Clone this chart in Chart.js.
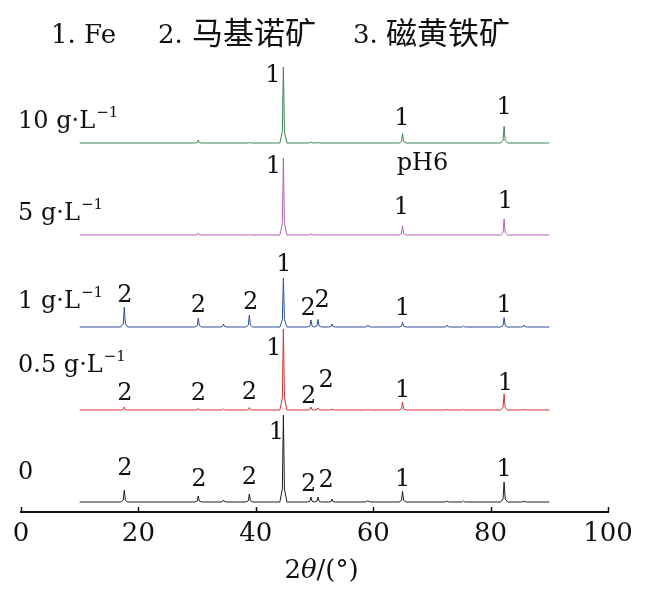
<!DOCTYPE html>
<html>
<head>
<meta charset="utf-8">
<script src="https://cdn.jsdelivr.net/npm/chart.js@4"></script>
<style>
  html, body { margin: 0; padding: 0; background: #fff; }
  #wrap { width: 645px; height: 601px; position: relative; }
</style>
</head>
<body>
<div id="wrap"><canvas id="xrd"></canvas></div>
<script>
// peak positions (2θ, degrees)
const peakPos = [17.6, 30.2, 34.5, 38.9, 44.7, 49.4, 50.6, 53.0, 59.1, 65.0, 72.6, 75.4, 82.3, 85.7];

// peak heights above baseline for each sample (a.u.)
const hBlank = [12, 6, 2, 8, 87, 5, 5, 3, 1.5, 10.7, 1, 1, 20, 1];
const hHalf  = [3, 1.5, 1, 2.5, 81, 3, 2, 1, 0.5, 8, 0.5, 0.5, 16, 0.5];
const hOne   = [20, 9, 3, 12, 49, 7, 7.5, 3, 2, 5, 2, 1, 9.3, 2];
const hFive  = [0, 2, 0, 0.5, 77, 1, 0.5, 0, 0, 9.3, 0, 0, 16, 0];
const hTen   = [0, 3, 0, 0.5, 76, 1, 0.5, 0, 0, 9.3, 0, 0, 16.7, 0];

// vertical offsets of the stacked patterns
const offsets = [10, 102, 185, 277, 369];
const sampleNames = ["0", "0.5 g·L", "1 g·L", "5 g·L", "10 g·L"];
const sampleColors = ["#1e1e1e", "#dd2f2f", "#2c4f9e", "#b361b3", "#3b8558"];
const sampleHeights = [hBlank, hHalf, hOne, hFive, hTen];

// left-hand sample labels: x (2θ), y (a.u.) of text baseline
const nameX = -0.5;
const nameY = [33, 140, 204, 292, 384];

// peak marker labels: [text, 2θ, y]
const peakLabels = [
  ["1", 43.5, 80.5], ["2", 17.7, 44], ["2", 30.3, 33], ["2", 38.9, 35], ["2", 49.0, 28], ["2", 52.0, 32], ["1", 65.0, 33.5], ["1", 82.3, 43],
  ["1", 43.1, 164], ["2", 17.7, 119], ["2", 30.2, 119], ["2", 38.9, 120.5], ["2", 49.0, 116], ["2", 52.0, 132], ["1", 65.0, 122], ["1", 82.5, 129.5],
  ["2", 17.7, 217.5], ["2", 30.2, 207], ["2", 39.1, 210.5], ["1", 44.8, 248.5], ["2", 48.9, 204], ["2", 51.3, 212], ["1", 65.0, 204.5], ["1", 82.3, 207.5],
  ["1", 43.0, 346], ["1", 64.8, 305], ["1", 82.5, 311],
  ["1", 42.9, 437], ["1", 64.9, 394.5], ["1", 82.3, 405]
];
const phLabel = ["pH6", 68.4, 349];

// legend text pieces: [text, isCjk, left x in px]
const legendParts = [["1. Fe", false, 51], ["2.", false, 158], ["马基诺矿", true, 192], ["3.", false, 353], ["磁黄铁矿", true, 386]];

const xTicks = [0, 20, 40, 60, 80, 100];
const scanStart = 10, scanEnd = 90;

const serif = '"DejaVu Serif", "Liberation Serif", serif';
const cjk = '"Noto Sans CJK SC", sans-serif';

// build each pattern as a flat baseline with sharp peaks
function buildPattern(heights, off) {
  const pts = [{x: scanStart, y: off}];
  peakPos.forEach((p, i) => {
    const h = heights[i];
    if (h <= 0) return;
    pts.push({x: p - 0.6, y: off});
    pts.push({x: p - 0.18, y: off + h * 0.15});
    pts.push({x: p, y: off + h});
    pts.push({x: p + 0.18, y: off + h * 0.15});
    pts.push({x: p + 0.6, y: off});
  });
  pts.push({x: scanEnd, y: off});
  return pts;
}

const datasets = sampleHeights.map((h, i) => ({
  label: sampleNames[i],
  data: buildPattern(h, offsets[i]),
  borderColor: sampleColors[i],
  borderWidth: 1,
  pointRadius: 0,
  fill: false,
  tension: 0
}));

const textPlugin = {
  id: "xrdText",
  afterDraw(chart) {
    const {ctx, scales: {x, y}} = chart;
    ctx.save();
    ctx.fillStyle = "#111";

    // inward ticks
    ctx.strokeStyle = "#111";
    ctx.lineWidth = 1.5;
    xTicks.forEach(t => {
      const px = Math.round(x.getPixelForValue(t)) + 0.5;
      ctx.beginPath();
      ctx.moveTo(px, y.bottom);
      ctx.lineTo(px, y.bottom - 5);
      ctx.stroke();
    });

    // peak labels
    ctx.font = "24px " + serif;
    ctx.textAlign = "center";
    ctx.textBaseline = "middle";
    peakLabels.forEach(([t, xv, yv]) => {
      ctx.fillText(t, x.getPixelForValue(xv), y.getPixelForValue(yv) + 1);
    });
    ctx.fillText(phLabel[0], x.getPixelForValue(phLabel[1]), y.getPixelForValue(phLabel[2]) + 1);

    // sample names with superscript -1
    ctx.textAlign = "left";
    ctx.textBaseline = "alphabetic";
    sampleNames.forEach((n, i) => {
      const px = x.getPixelForValue(nameX);
      const py = y.getPixelForValue(nameY[i]);
      ctx.font = "24px " + serif;
      ctx.fillText(n, px, py);
      if (i > 0) {
        const w = ctx.measureText(n).width;
        ctx.font = "15px " + serif;
        ctx.fillText("−1", px + w + 1, py - 11);
      }
    });

    // legend line at top
    legendParts.forEach(([t, isCjk, lx]) => {
      ctx.font = isCjk ? "31px " + cjk : "26px " + serif;
      ctx.fillText(t, lx, isCjk ? 44 : 43);
    });

    // axis title 2θ/(°)
    const tparts = [["2", "26px " + serif], ["θ", "italic 26px " + serif], ["/(°)", "26px " + serif]];
    let tw = 0;
    tparts.forEach(([t, f]) => { ctx.font = f; tw += ctx.measureText(t).width; });
    let tx = 321.5 - tw / 2;
    tparts.forEach(([t, f]) => {
      ctx.font = f;
      ctx.fillText(t, tx, 578);
      tx += ctx.measureText(t).width;
    });
    ctx.restore();
  }
};

new Chart(document.getElementById("xrd"), {
  type: "line",
  data: { datasets },
  options: {
    responsive: true,
    maintainAspectRatio: false,
    animation: false,
    layout: { padding: { left: 21, right: 37, top: 0, bottom: 0 } },
    plugins: { legend: { display: false }, tooltip: { enabled: false } },
    scales: {
      x: {
        type: "linear",
        min: 0,
        max: 100,
        afterFit(s) { s.height = 89; },
        afterBuildTicks(s) { s.ticks = xTicks.map(v => ({ value: v })); },
        grid: { display: true, drawOnChartArea: false, drawTicks: false },
        border: { display: true, color: "#111", width: 2 },
        ticks: {
          color: "#111",
          padding: 7,
          maxRotation: 0,
          font: { family: "DejaVu Serif", size: 26 }
        }
      },
      y: {
        type: "linear",
        display: false,
        min: 0,
        max: 512
      }
    }
  },
  plugins: [textPlugin]
});
</script>
</body>
</html>
